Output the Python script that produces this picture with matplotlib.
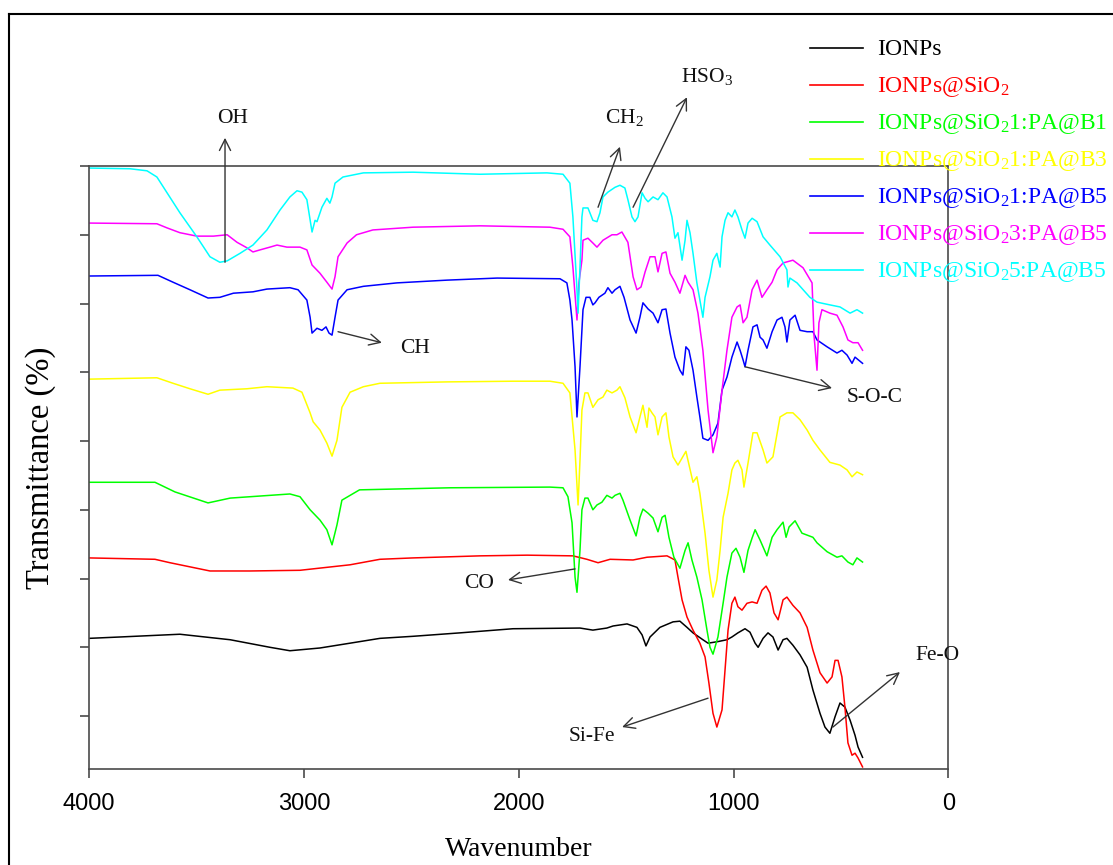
import matplotlib
matplotlib.use('Agg')
import matplotlib.pyplot as plt
from matplotlib.lines import Line2D

plt.rcParams['mathtext.fontset'] = 'custom'
plt.rcParams['mathtext.rm'] = 'Liberation Serif'
plt.rcParams['mathtext.it'] = 'Liberation Serif:italic'
plt.rcParams['mathtext.bf'] = 'Liberation Serif:bold'

# ---------------- data (wavenumber in cm-1, offset transmittance) ----------------
ionps_wn = [4000, 3856, 3577, 3343, 3158, 3065, 2925, 2785, 2646, 2492, 2273, 2027, 1715, 1655, 1590,
            1561, 1496, 1450, 1426, 1408, 1389, 1343, 1282, 1250, 1217, 1189, 1143, 1119, 1078, 1031,
            1008, 980, 947, 924, 900, 886, 863, 840, 817, 793, 770, 752, 724, 691, 658, 631, 598, 575,
            552, 528, 505, 482, 458, 435, 421, 400]
ionps_t = [11.3, 11.5, 11.9, 11.1, 10.0, 9.5, 9.9, 10.6, 11.3, 11.6, 12.1, 12.7, 12.8, 12.5, 12.8,
           13.1, 13.4, 12.9, 11.8, 10.2, 11.5, 12.9, 13.7, 13.8, 12.9, 12.1, 11.1, 10.6, 10.8, 11.1,
           11.5, 12.1, 12.7, 12.2, 10.6, 10.0, 11.3, 12.1, 11.5, 9.6, 11.1, 11.3, 10.3, 8.9, 7.1, 3.8, 0.4, -1.6,
           -2.5, -0.1, 1.9, 1.3, -0.6, -2.8, -4.5, -6.0]

sio2_wn = [4000, 3693, 3623, 3437, 3251, 3018, 2785, 2646, 2492, 2180, 1961, 1748, 1683, 1631, 1575,
           1468, 1403, 1310, 1273, 1259, 1240, 1217, 1189, 1157, 1133, 1115, 1096, 1078, 1054, 1040,
           1026, 1008, 994, 980, 961, 938, 914, 891, 868, 849, 831, 812, 793, 770, 752, 724, 691, 658,
           631, 598, 565, 542, 528, 514, 496, 482, 468, 449, 435, 421, 400]
sio2_t = [23.0, 22.8, 22.3, 21.1, 21.1, 21.2, 22.0, 22.8, 23.0, 23.3, 23.4, 23.3, 22.8, 22.3, 22.8,
          22.7, 23.1, 23.3, 22.7, 20.2, 16.9, 14.4, 12.5, 10.6, 8.6, 4.8, 0.4, -1.6, 0.9, 6.7,
          12.5, 16.4, 17.3, 15.9, 15.4, 16.4, 16.6, 16.4, 18.3, 18.9, 17.9, 15.0, 14.0, 16.9, 17.3, 16.1, 15.0, 12.9,
          9.6, 6.3, 4.8, 5.7, 8.1, 8.1, 5.7, 1.3, -3.9, -5.7, -5.4, -6.1, -7.4]

b1_wn = [4000, 3693, 3600, 3446, 3343, 3204, 3065, 3018, 2971, 2925, 2893, 2869, 2846, 2823, 2741,
         2320, 1855, 1794, 1771, 1752, 1738, 1729, 1715, 1706, 1692, 1678, 1655, 1636, 1613, 1590,
         1566, 1552, 1529, 1515, 1482, 1454, 1436, 1422, 1398, 1375, 1352, 1333, 1319, 1301, 1278,
         1250, 1226, 1212, 1194, 1171, 1147, 1124, 1110, 1096, 1073, 1049, 1031, 1008, 989, 970,
         952, 933, 914, 900, 877, 845, 821, 798, 770, 756, 742, 714, 682, 631, 612, 565, 519, 496,
         468, 445, 426, 400]
b1_t = [34.0, 34.0, 32.6, 31.0, 31.7, 32.0, 32.3, 31.9, 30.0, 28.5, 27.1, 24.9, 27.8, 31.4, 32.9,
        33.2, 33.3, 33.2, 31.9, 28.1, 20.2, 18.0, 24.1, 30.0, 31.7, 31.7, 30.0, 30.7, 31.1, 32.1,
        31.7, 32.1, 32.4, 31.4, 28.5, 26.2, 28.9, 30.1, 29.5, 28.8, 26.8, 28.9, 29.2, 26.0, 23.1,
        21.5, 24.1, 25.2, 22.7, 20.2, 16.9, 12.5, 10.0, 9.0, 11.5, 16.4, 20.2, 23.7, 24.4, 23.1,
        20.9, 24.1, 25.9, 27.1, 25.6, 23.3, 26.0, 27.1, 28.2, 26.0, 27.5, 28.4, 26.6, 26.0, 25.2, 23.9, 23.1, 23.3,
        22.4, 22.0, 23.0, 22.4]

b3_wn = [4000, 3684, 3609, 3530, 3446, 3391, 3265, 3172, 3051, 3009, 2971, 2957, 2925, 2893, 2869,
         2846, 2823, 2785, 2723, 2646, 2334, 2027, 1855, 1794, 1762, 1738, 1724, 1715, 1706, 1692,
         1678, 1655, 1631, 1608, 1590, 1566, 1543, 1529, 1506, 1482, 1454, 1436, 1422, 1412, 1403,
         1394, 1380, 1366, 1352, 1333, 1315, 1301, 1282, 1259, 1222, 1189, 1171, 1157, 1133, 1115,
         1096, 1078, 1063, 1049, 1026, 1008, 994, 980, 961, 952, 933, 910, 891, 863, 845, 817, 784,
         752, 724, 691, 658, 631, 598, 552, 505, 472, 449, 426, 400]
b3_t = [49.0, 49.2, 48.4, 47.6, 46.8, 47.4, 47.6, 47.9, 47.7, 47.1, 44.1, 42.8, 41.6, 39.7, 37.8,
        40.1, 44.9, 47.1, 47.9, 48.4, 48.6, 48.7, 48.7, 48.4, 47.0, 38.7, 30.7, 37.2, 44.5, 47.0,
        47.0, 44.9, 46.0, 46.4, 47.4, 47.0, 47.4, 47.9, 46.3, 43.5, 41.2, 43.5, 45.2, 43.5, 42.0,
        44.8, 44.1, 43.5, 40.9, 43.5, 44.1, 40.6, 37.7, 36.5, 38.5, 34.0, 34.8, 32.4, 26.6, 21.2,
        17.3, 19.8, 24.1, 28.9, 32.4, 35.8, 36.8, 37.2, 35.8, 33.3, 36.8, 41.2, 41.2, 38.7, 36.8, 37.7, 43.5,
        44.1, 44.1, 43.1, 41.6, 40.1, 38.7, 36.9, 36.5, 35.8, 34.8, 35.5, 35.1]

b5_wn = [4000, 3679, 3609, 3530, 3446, 3391, 3328, 3237, 3172, 3065, 3027, 2986, 2971, 2962, 2939,
         2916, 2897, 2883, 2869, 2855, 2841, 2799, 2723, 2567, 2334, 2101, 1808, 1776, 1762, 1752,
         1738, 1729, 1715, 1701, 1687, 1669, 1655, 1645, 1627, 1599, 1585, 1566, 1552, 1529, 1510,
         1482, 1454, 1436, 1422, 1398, 1375, 1352, 1333, 1315, 1296, 1273, 1250, 1236, 1222, 1208,
         1189, 1171, 1157, 1143, 1119, 1096, 1073, 1054, 1031, 1008, 984, 970, 956, 947, 933, 910,
         891, 877, 863, 845, 821, 798, 775, 761, 752, 738, 714, 691, 658, 631, 612, 565, 519, 496,
         472, 449, 435, 400]
b5_t = [64.0, 64.1, 63.1, 62.0, 60.8, 60.9, 61.5, 61.7, 62.1, 62.3, 62.0, 60.5, 58.0, 55.7, 56.4,
        56.1, 56.6, 55.7, 55.4, 58.0, 60.5, 62.0, 62.5, 63.0, 63.4, 63.7, 63.6, 63.0, 60.5, 57.6,
        50.8, 43.5, 50.8, 59.1, 60.9, 60.9, 59.8, 60.1, 60.9, 61.5, 62.3, 61.5, 62.0, 62.5, 60.9,
        57.6, 55.7, 58.0, 60.1, 59.2, 58.6, 57.2, 59.1, 59.2, 55.7, 52.2, 50.3, 49.6, 53.7, 53.2,
        50.3, 46.4, 43.5, 40.4, 40.1, 40.9, 42.6, 47.4, 49.3, 52.2, 54.4, 53.2, 51.8, 50.8, 53.2, 56.6,
        56.9, 55.1, 54.7, 53.5, 55.9, 57.6, 58.0, 56.6, 54.4, 57.6, 58.3, 56.1, 55.9, 55.9, 54.7, 53.7, 52.8, 53.2,
        52.5, 51.3, 52.2, 51.3]

c3_wn = [4000, 3684, 3637, 3577, 3498, 3421, 3357, 3311, 3265, 3237, 3204, 3158, 3125, 3079, 3018,
         2986, 2962, 2925, 2893, 2869, 2855, 2841, 2799, 2755, 2679, 2492, 2180, 1855, 1794, 1762,
         1748, 1729, 1720, 1706, 1701, 1678, 1655, 1636, 1608, 1566, 1543, 1520, 1492, 1468, 1450,
         1431, 1412, 1389, 1366, 1352, 1333, 1315, 1296, 1273, 1250, 1226, 1212, 1189, 1166, 1143,
         1119, 1096, 1078, 1054, 1031, 1008, 984, 970, 956, 938, 914, 891, 868, 845, 821, 798, 770,
         724, 677, 635, 626, 612, 603, 589, 552, 519, 491, 468, 445, 421, 400]
c3_t = [71.7, 71.6, 71.0, 70.3, 69.8, 69.8, 70.0, 68.9, 68.1, 67.5, 67.8, 68.2, 68.5, 68.2, 68.2,
        67.8, 65.6, 64.4, 63.1, 62.1, 63.9, 66.8, 68.8, 70.0, 70.7, 71.1, 71.3, 71.1, 70.8, 69.7,
        65.3, 57.6, 63.0, 66.3, 69.2, 69.5, 68.8, 68.2, 69.2, 70.0, 70.0, 70.4, 68.9, 63.9, 62.0,
        62.4, 64.6, 66.8, 66.8, 64.6, 67.3, 67.5, 64.4, 63.1, 61.5, 64.1, 63.1, 62.0, 58.6, 53.2,
        44.5, 38.3, 40.6, 47.4, 53.2, 58.0, 59.5, 59.8, 57.2, 58.0, 62.0, 63.4, 60.9, 62.0, 63.1, 64.9, 65.9,
        66.3, 65.2, 63.0, 55.4, 50.3, 57.2, 59.1, 58.6, 58.3, 56.6, 54.7, 54.3, 54.3, 53.2]

c5_wn = [4000, 3809, 3730, 3684, 3577, 3498, 3437, 3391, 3357, 3297, 3237, 3172, 3111, 3065, 3032,
         3009, 2986, 2962, 2948, 2939, 2916, 2893, 2879, 2869, 2855, 2818, 2723, 2492, 2180, 1869,
         1794, 1762, 1748, 1729, 1724, 1715, 1706, 1701, 1678, 1655, 1636, 1622, 1608, 1585, 1552,
         1529, 1506, 1492, 1473, 1459, 1445, 1426, 1412, 1398, 1375, 1352, 1329, 1310, 1287, 1273,
         1259, 1240, 1226, 1217, 1203, 1189, 1171, 1157, 1143, 1133, 1110, 1096, 1078, 1063, 1054,
         1040, 1026, 1008, 994, 980, 961, 947, 933, 914, 891, 863, 831, 784, 752, 747, 738, 705, 645,
         612, 552, 505, 458, 426, 400]
c5_t = [79.7, 79.6, 79.3, 78.4, 73.2, 69.7, 66.8, 66.0, 66.2, 67.3, 68.5, 70.7, 73.6, 75.5, 76.4,
        76.2, 75.1, 70.4, 72.1, 71.9, 74.0, 75.3, 74.6, 75.5, 77.5, 78.4, 79.0, 79.1, 78.8, 79.0,
        78.8, 77.5, 72.6, 62.0, 58.6, 65.3, 72.6, 73.9, 73.9, 72.1, 71.9, 73.2, 75.5, 76.2, 76.9,
        77.2, 76.8, 75.1, 72.6, 71.9, 72.6, 76.1, 75.3, 74.8, 75.5, 75.1, 76.1, 75.5, 72.6, 69.5,
        70.3, 66.3, 69.2, 72.1, 70.3, 67.3, 63.0, 60.5, 58.0, 60.9, 63.9, 66.3, 67.3, 65.3, 69.7,
        72.1, 73.2, 72.6, 73.6, 72.6, 70.7, 69.5, 71.7, 72.4, 71.9, 69.7, 68.5, 66.8, 64.9, 62.4, 63.7, 63.0, 60.9,
        60.2, 59.8, 59.5, 58.6, 59.1, 58.6]

series_labels = ['IONPs', 'IONPs@SiO$_2$', 'IONPs@SiO$_2$1:PA@B1', 'IONPs@SiO$_2$1:PA@B3',
                 'IONPs@SiO$_2$1:PA@B5', 'IONPs@SiO$_2$3:PA@B5', 'IONPs@SiO$_2$5:PA@B5']
series_colors = ['#000000', '#ff0000', '#00ff00', '#ffff00', '#0000ff', '#ff00ff', '#00ffff']
series_x = [ionps_wn, sio2_wn, b1_wn, b3_wn, b5_wn, c3_wn, c5_wn]
series_y = [ionps_t, sio2_t, b1_t, b3_t, b5_t, c3_t, c5_t]

x_ticks = [4000, 3000, 2000, 1000, 0]

# band annotations: label, text (wn, T), arrow tail (wn, T), arrow head (wn, T), ha
band_labels = ['OH', 'CH$_2$', 'HSO$_3$', 'CH', 'S-O-C', 'CO', 'Si-Fe', 'Fe-O']
band_text_pos = [(3332, 86.25), (1599, 86.25), (1245, 92.2), (2483, 52.8), (472, 45.7),
                 (2185, 18.6), (1659, -3.6), (156, 8.1)]
band_text_ha = ['center', 'left', 'left', 'center', 'left', 'center', 'center', 'left']
band_tail = [(3367, 66.0), (1631, 74.0), (1468, 74.0), (2841, 55.9), (947, 50.8),
             (1738, 21.4), (1119, 2.6), (538, -1.6)]
band_head = [(3367, 84.1), (1529, 82.8), (1217, 90.0), (2637, 54.3), (542, 47.7),
             (2050, 19.8), (1519, -1.6), (226, 6.4)]

# ---------------- figure ----------------
W, H = 1113, 865
fig = plt.figure(figsize=(W / 100, H / 100), dpi=100)
ax = fig.add_axes([89 / W, 1 - 769 / H, (948.5 - 89) / W, (769 - 166) / H])

for xs, ys, c in zip(series_x, series_y, series_colors):
    ax.plot(xs, ys, color=c, lw=1.1, solid_joinstyle='round')

ax.set_xlim(4000, 0)
ax.set_ylim(-7.7, 80)
ax.set_xticks(x_ticks)
ax.set_xticklabels([str(t) for t in x_ticks], fontfamily='Liberation Sans', fontsize=17)
ax.set_yticks(range(0, 81, 10))
ax.set_yticklabels([])
spine_c = '#4a4a4a'
for s in ax.spines.values():
    s.set_color(spine_c)
    s.set_linewidth(1.2)
ax.tick_params(axis='both', direction='out', length=6.5, width=1.2, color=spine_c)
ax.tick_params(axis='x', pad=11)

ax.set_xlabel('Wavenumber', fontfamily='Liberation Serif', fontsize=20)
ax.xaxis.set_label_coords(0.5, -0.113)
ax.set_ylabel('Transmittance (%)', fontfamily='Liberation Serif', fontsize=23.5)
ax.yaxis.set_label_coords(-0.038, 0.5)

for lab, tp, ha, tl, hd in zip(band_labels, band_text_pos, band_text_ha, band_tail, band_head):
    ax.annotate('', xy=hd, xytext=tl, annotation_clip=False,
                arrowprops=dict(arrowstyle='->', color='#333333', lw=1.0,
                                mutation_scale=20, shrinkA=0, shrinkB=0))
    ax.text(tp[0], tp[1], lab, ha=ha, va='baseline', fontfamily='Liberation Serif',
            fontsize=15.5, color='#111111', clip_on=False)

# legend (drawn in figure pixel space)
for i, (lab, c) in enumerate(zip(series_labels, series_colors)):
    yy = 48.3 + 37.0 * i
    fig.add_artist(Line2D([810 / W, 863 / W], [1 - yy / H, 1 - yy / H], color=c, lw=1.2,
                          transform=fig.transFigure))
    fig.text(877 / W, 1 - (yy + 7) / H, lab, color=c, fontfamily='Liberation Serif',
             fontsize=17, ha='left', va='baseline')

# outer frame
fig.add_artist(Line2D([9 / W, 9 / W], [0, 1 - 14 / H], color='black', lw=1.5, transform=fig.transFigure))
fig.add_artist(Line2D([9 / W, 1], [1 - 14 / H, 1 - 14 / H], color='black', lw=1.5, transform=fig.transFigure))

fig.savefig('out.png', dpi=100)
